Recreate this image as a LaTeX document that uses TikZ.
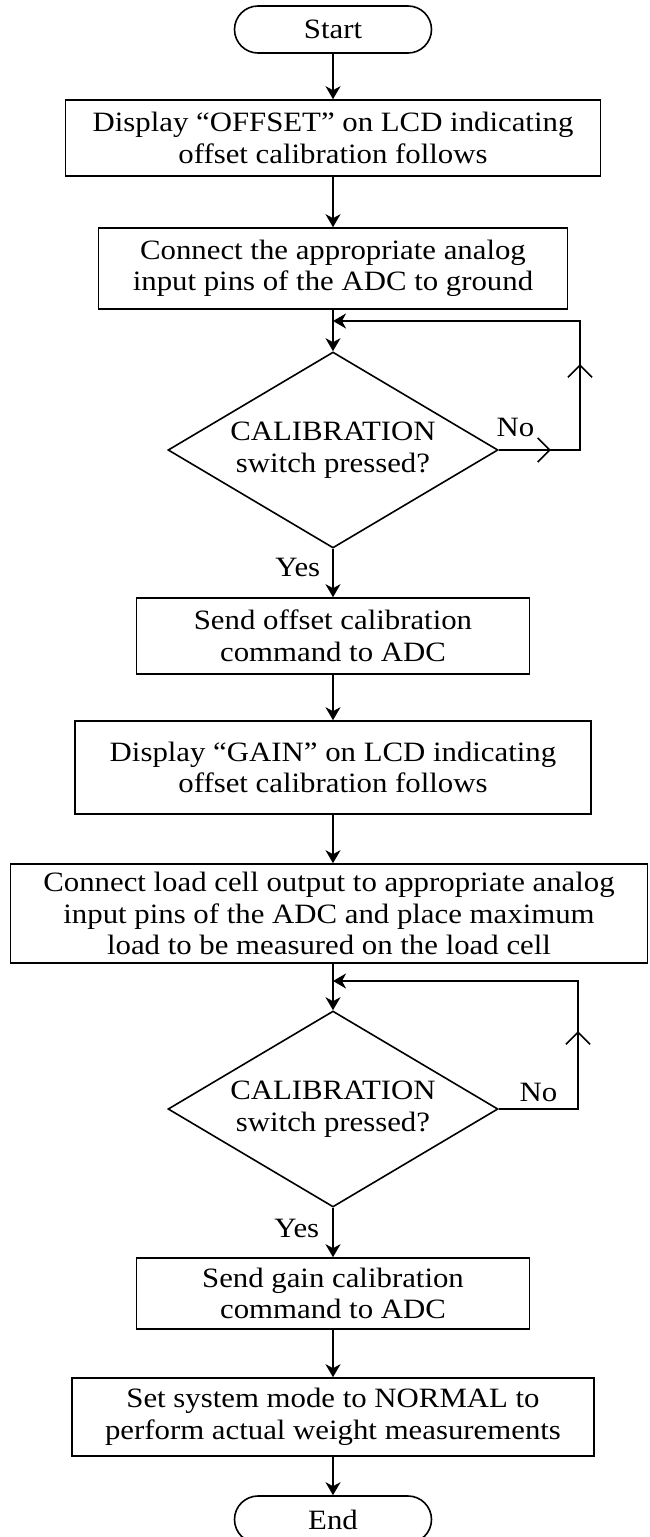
\documentclass[tikz,border=0pt]{standalone}
\usepackage{fontspec}
\setmainfont{Liberation Serif}[FakeStretch=1.1]
\usetikzlibrary{shapes.geometric, arrows.meta, positioning, calc, decorations.markings}

\begin{document}
\begin{tikzpicture}[x=1pt, y=-1pt,
    font=\fontsize{28}{31.5}\selectfont,
    line width=1.6pt,
    procbox/.style={draw, rectangle, align=center, inner sep=2pt},
    termbox/.style={draw, rectangle, rounded corners=23.5pt, minimum width=197pt,
                    minimum height=47pt, inner sep=0pt},
    decision/.style={draw, diamond, aspect=1.68, minimum width=330pt, minimum height=196pt,
                     inner sep=0pt, align=center},
    flow/.style={-{Stealth[length=13pt, width=15pt, inset=4pt]}},
    barb/.tip={Straight Barb[length=12pt, width=24pt]},
    lbl/.style={inner sep=0pt}]
    \useasboundingbox (0,0) rectangle (649,1537);

    % Offset calibration
    \node[termbox] (start) at (333,29.5) {Start};
    \node[procbox, minimum width=535pt, minimum height=76pt] (b1) at (333,138)
        {Display “OFFSET” on LCD indicating\\offset calibration follows};
    \node[procbox, minimum width=469pt, minimum height=81pt] (b2) at (333,268.5)
        {Connect the appropriate analog\\input pins of the ADC to ground};
    \node[decision] (d1) at (333,450) {CALIBRATION\\switch pressed?};
    \node[procbox, minimum width=393pt, minimum height=76pt] (b3) at (333,636)
        {Send offset calibration\\command to ADC};

    % Gain calibration
    \node[procbox, minimum width=516pt, minimum height=93pt] (b4) at (333,767.5)
        {Display “GAIN” on LCD indicating\\offset calibration follows};
    \node[procbox, minimum width=637pt, minimum height=99pt] (b5) at (329,913.5)
        {Connect load cell output to appropriate analog\\input pins of the ADC and place maximum\\load to be measured on the load cell};
    \node[decision] (d2) at (333,1109) {CALIBRATION\\switch pressed?};
    \node[procbox, minimum width=393pt, minimum height=71pt] (b6) at (333,1293.5)
        {Send gain calibration\\command to ADC};
    \node[procbox, minimum width=522pt, minimum height=78pt] (b7) at (333,1417)
        {Set system mode to NORMAL to\\perform actual weight measurements};
    \node[termbox] (end) at (333,1519.5) {End};

    % loop corners
    \coordinate (r1) at (580,450);
    \coordinate (j1) at (333,321);
    \coordinate (r2) at (578,1109);
    \coordinate (j2) at (333,981);

    \draw[flow] (start) -- (b1);
    \draw[flow] (b1) -- (b2);
    \draw[flow] (b2) -- (d1);
    \draw[flow] (d1) -- node[lbl, pos=0.39, anchor=east, xshift=-12pt] {Yes} (b3);
    \draw[flow, postaction={decorate}, decoration={markings,
            mark=at position 52pt with {\arrow{barb}},
            mark=at position 167pt with {\arrow{barb}}}]
        (d1.east) node[lbl, anchor=south west, xshift=-3pt, yshift=12pt] {No} -- (r1) |- (j1);
    \draw[flow] (b3) -- (b4);
    \draw[flow] (b4.south) -- (b4.south |- b5.north);
    \draw[flow] (d2.north |- b5.south) -- (d2.north);
    \draw[flow, postaction={decorate}, decoration={markings,
            mark=at position 157pt with {\arrow{barb}}}]
        (d2.east) -- node[lbl, anchor=south, yshift=6pt] {No} (r2) |- (j2);
    \draw[flow] (d2) -- node[lbl, pos=0.42, anchor=east, xshift=-13pt] {Yes} (b6);
    \draw[flow] (b6) -- (b7);
    \draw[flow] (b7) -- (end);
\end{tikzpicture}
\end{document}
